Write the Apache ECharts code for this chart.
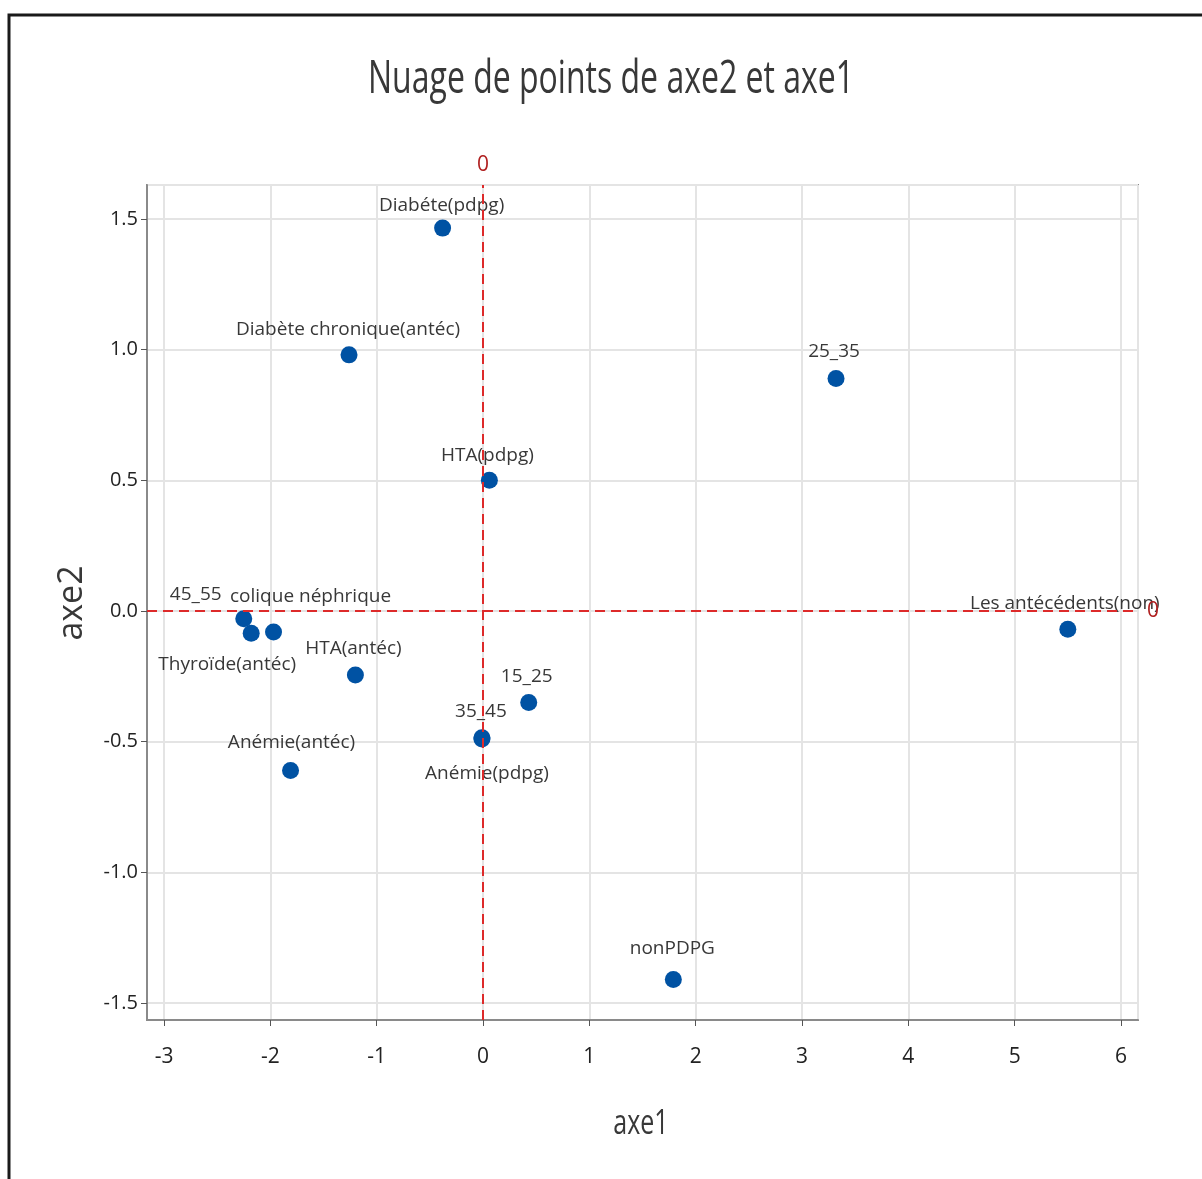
<!DOCTYPE html>
<html>
<head>
<meta charset="utf-8">
<script src="https://cdn.jsdelivr.net/npm/echarts@6/dist/echarts.min.js"></script>
<style>
  html, body { margin: 0; padding: 0; background: #fff; }
  #chart { width: 1202px; height: 1179px; }
</style>
</head>
<body>
<div id="chart"></div>
<script>
// Modalities projected on the first two factorial axes
const labels = [
  'Diabéte(pdpg)', 'Diabète chronique(antéc)', '25_35', 'HTA(pdpg)',
  'Les antécédents(non)', '45_55', 'Thyroïde(antéc)', 'colique néphrique',
  'HTA(antéc)', '15_25', '35_45', 'Anémie(pdpg)', 'Anémie(antéc)', 'nonPDPG'
];
const axe1 = [-0.38, -1.26, 3.32, 0.06, 5.50, -2.25, -2.18, -1.97, -1.20, 0.43, -0.01, -0.01, -1.81, 1.79];
const axe2 = [1.465, 0.98, 0.89, 0.50, -0.07, -0.03, -0.085, -0.08, -0.245, -0.35, -0.485, -0.49, -0.61, -1.41];

// Label placement relative to each point centre (px)
const labelShift = [
  [-1, -23], [-1, -25], [-2, -27], [-2, -25], [-3, -26], [-48, -24], [-24, 31],
  [37, -35], [-2, -26], [-2, -26], [-1, -26], [5, 35], [1, -28], [-1, -31]
];

const FONT = '"Open Sans", "Noto Sans", sans-serif';
const TEXT = '#383838';

const points = labels.map((name, i) => ({
  name: name,
  value: [axe1[i], axe2[i]],
  label: { offset: labelShift[i] }
}));

const chart = echarts.init(document.getElementById('chart'), null, { renderer: 'canvas' });

chart.setOption({
  backgroundColor: '#ffffff',
  animation: false,
  grid: {
    left: 147, right: 64, top: 185, bottom: 159,
    show: true, borderColor: '#8a8a8a', borderWidth: 2, backgroundColor: 'transparent'
  },
  xAxis: {
    type: 'value',
    min: -3.16, max: 6.16,
    minInterval: 1, maxInterval: 1,
    axisLine: { show: true, onZero: false, lineStyle: { color: '#8a8a8a', width: 2 } },
    axisTick: { show: true, length: 6, lineStyle: { color: '#555', width: 1 } },
    axisLabel: {
      showMinLabel: false, showMaxLabel: false,
      margin: 27, fontSize: 21, fontFamily: FONT, color: '#222'
    },
    splitLine: { show: true, lineStyle: { color: '#e4e4e4', width: 2 } }
  },
  yAxis: {
    type: 'value',
    min: -1.565, max: 1.63,
    minInterval: 0.5, maxInterval: 0.5,
    axisLine: { show: true, onZero: false, lineStyle: { color: '#8a8a8a', width: 2 } },
    axisTick: { show: true, length: 6, lineStyle: { color: '#555', width: 1 } },
    axisLabel: {
      showMinLabel: false, showMaxLabel: false,
      margin: 9, fontSize: 20, fontFamily: FONT, color: '#222',
      formatter: v => v.toFixed(1)
    },
    splitLine: { show: true, lineStyle: { color: '#e4e4e4', width: 2 } }
  },
  series: [{
    type: 'scatter',
    symbol: 'circle',
    symbolSize: 17,
    itemStyle: { color: '#0052a3', opacity: 1 },
    data: points,
    label: {
      show: true,
      position: 'inside',
      formatter: p => p.name,
      color: TEXT,
      fontSize: 19,
      fontFamily: FONT
    },
    emphasis: { disabled: true },
    markLine: {
      silent: true,
      symbol: 'none',
      animation: false,
      lineStyle: { color: '#dd2a2a', type: [10, 6], width: 2, opacity: 1 },
      label: {
        show: true, position: 'end', formatter: '0',
        color: '#b02020', fontSize: 21, fontFamily: FONT, distance: 9
      },
      data: [{ xAxis: 0 }, { yAxis: 0 }]
    }
  }],
  graphic: [
    {
      type: 'polyline',
      shape: { points: [[9, 1179], [9, 15], [1202, 15]] },
      style: { stroke: '#1a1a1a', lineWidth: 3, fill: null }
    },
    {
      type: 'text', x: 611, y: 80, scaleY: 1.4,
      style: {
        text: 'Nuage de points de axe2 et axe1',
        font: '32px ' + FONT, fill: TEXT,
        textAlign: 'center', textVerticalAlign: 'middle'
      }
    },
    {
      type: 'text', x: 641, y: 1124, scaleY: 1.35,
      style: {
        text: 'axe1', font: '25px ' + FONT, fill: TEXT,
        textAlign: 'center', textVerticalAlign: 'middle'
      }
    },
    {
      type: 'text', x: 72, y: 603, rotation: Math.PI / 2,
      style: {
        text: 'axe2', font: '34px ' + FONT, fill: TEXT,
        textAlign: 'center', textVerticalAlign: 'middle'
      }
    }
  ]
});
</script>
</body>
</html>
